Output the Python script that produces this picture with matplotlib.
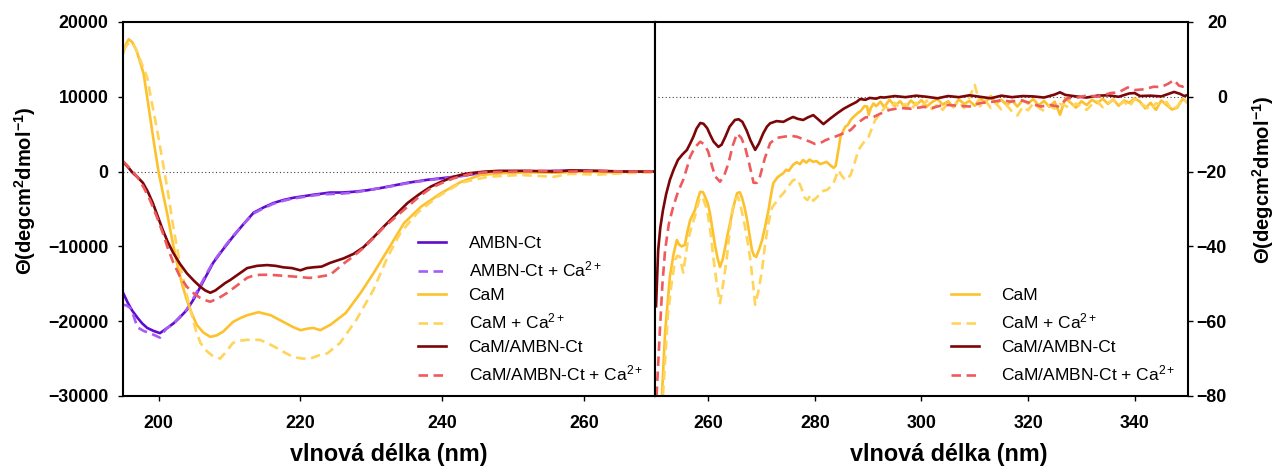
import matplotlib
matplotlib.use("Agg")
import matplotlib.pyplot as plt

plt.rcParams["font.family"] = ["Liberation Sans", "DejaVu Sans"]
plt.rcParams["mathtext.fontset"] = "custom"
plt.rcParams["mathtext.rm"] = "Liberation Sans"
plt.rcParams["mathtext.bf"] = "Liberation Sans:bold"
plt.rcParams["mathtext.it"] = "Liberation Sans:italic"

COLORS = {
    "ambn":      "#5E0CCF",
    "ambn_ca":   "#A65CF5",
    "cam":       "#FDC12E",
    "cam_ca":    "#FFD45A",
    "complex":   "#7C0508",
    "complex_ca": "#EF5A5C",
}

# ---------------- far-UV (left panel) ----------------
cam_nm = [195, 195.4, 195.8, 196.3, 196.9, 197.9, 198.6, 199.3, 200, 200.6, 201.2, 201.9,
          202.6, 203.3, 204, 204.7, 205.4, 206.3, 207.3, 208.2, 209.1, 210.5, 211.5, 212.5,
          214.1, 215.8, 217.6, 219, 220, 221, 221.8, 222.8, 224.2, 226.4, 228.5, 230.3,
          232.3, 234.6, 237, 239.8, 242.6, 245.4, 248.7, 252, 256, 260, 264, 268, 270]
cam_mre = [15800, 17000, 17700, 17300, 16200, 13100, 8700, 4200, 0, -2800, -5500, -9000,
           -12200, -15000, -17200, -19000, -20500, -21500, -22100, -21900, -21400, -20100,
           -19600, -19200, -18800, -19200, -20100, -20800, -21200, -21000, -20900, -21200,
           -20500, -18900, -16200, -13600, -10500, -6900, -4700, -2900, -1400, -450, -200,
           -100, -150, 0, -100, 0, 0]

cam_ca_nm = [195, 195.6, 196.3, 197, 197.6, 198.4, 199.1, 199.8, 200.5, 201.2, 202.1, 203,
             203.8, 204.5, 205.2, 205.9, 206.8, 207.7, 208.7, 209.6, 210.5, 211.5, 212.5,
             214.3, 215.5, 216.7, 218, 219, 220.3, 221.4, 222.8, 223.8, 225.6, 227.9, 230.3,
             232.3, 234.1, 236.5, 239.3, 242.6, 246.4, 251, 255.7, 258, 262, 266, 270]
cam_ca_mre = [16200, 17000, 17300, 16000, 14500, 12600, 9000, 5600, 1800, -2000, -7500,
              -12200, -15800, -18500, -21000, -22900, -24000, -24700, -25000, -24000, -22900,
              -22600, -22500, -22500, -23000, -23600, -24300, -24800, -25000, -25000, -24500,
              -24300, -22900, -19800, -15800, -11400, -8200, -5500, -3400, -1500, -700, -450,
              -700, -300, -400, -200, -100]

ambn_nm = [195, 195.7, 196.3, 197, 197.7, 198.4, 199.3, 200.2, 201.1, 202.1, 203, 204, 205,
           205.9, 206.8, 207.7, 209.1, 210.5, 212, 213.4, 214.8, 216.2, 217.6, 219, 220.4,
           221.8, 223, 224.2, 225.8, 227.5, 229.4, 231.3, 233.2, 235.1, 237.9, 239.8, 241.6,
           243.5, 245.4, 248, 252, 256, 260, 264, 270]
ambn_mre = [-16200, -17600, -18600, -19500, -20300, -20900, -21300, -21600, -21000, -20300,
            -19500, -18500, -17000, -15400, -13800, -12200, -10400, -8700, -7000, -5500,
            -4800, -4200, -3800, -3500, -3300, -3100, -2950, -2800, -2800, -2700, -2500,
            -2200, -1850, -1500, -1100, -900, -700, -450, -200, 0, 0, 100, 100, 0, 0]

ambn_ca_nm = [195, 195.5, 196.1, 196.6, 197, 197.9, 198.8, 199.5, 200.2, 200.7, 201.2, 202.1,
              203, 204, 205, 205.9, 206.8, 207.7, 209.1, 210.5, 212, 213.4, 214.8, 216.2,
              217.6, 219, 220.4, 221.8, 223, 224.2, 225.8, 227.5, 229.4, 231.3, 233.2, 235.1,
              237.9, 239.8, 241.6, 243.5, 245.4, 248, 252, 256, 260, 264, 270]
ambn_ca_mre = [-17800, -17900, -18300, -19600, -20800, -21300, -21600, -21900, -22200, -21500,
               -20900, -20400, -19400, -18400, -16800, -15200, -13600, -12100, -10300, -8600,
               -7000, -5600, -4900, -4300, -3900, -3600, -3400, -3200, -3050, -3000, -2950,
               -2800, -2500, -2200, -1900, -1550, -1150, -950, -750, -500, -250, -50, 0, 50,
               50, 0, 0]

cplx_nm = [195, 195.7, 196.4, 197.1, 197.8, 198.5, 199.2, 199.9, 200.6, 201.3, 202.1, 203, 204,
           205, 205.9, 206.6, 207.3, 208, 208.7, 209.4, 210.1, 211.3, 212.5, 213.9, 215.3,
           216.5, 217.6, 218.8, 220, 220.9, 221.8, 223, 224.2, 226.1, 227.5, 228.9, 230.3,
           231.7, 233.4, 235.1, 236.8, 238.4, 240, 241.6, 243, 244, 246, 248, 252, 256, 258,
           262, 266, 270]
cplx_mre = [1300, 600, -200, -800, -1500, -2700, -4200, -6000, -7800, -9400, -10900, -12300,
            -13600, -14600, -15400, -15900, -16200, -15900, -15400, -14900, -14500, -13700,
            -12900, -12600, -12500, -12600, -12800, -12900, -13200, -12900, -12800, -12700,
            -12200, -11600, -11000, -10100, -8800, -7400, -5800, -4200, -3000, -2000, -1300,
            -700, -350, -200, 0, 100, 100, 0, 150, 100, 0, 0]

cplx_ca_nm = [195, 196, 197, 197.9, 198.8, 199.7, 200.6, 201.3, 202.1, 203, 204, 205, 205.9,
              206.6, 207.3, 208.5, 209.7, 211.1, 212.5, 213.4, 214.3, 215.7, 217.2, 218.6,
              220, 221, 221.8, 223, 224.2, 226.1, 227.5, 228.9, 230.3, 231.7, 233.4, 235.1,
              236.8, 238.4, 240, 241.6, 244, 246, 250, 254, 258, 262, 266, 270]
cplx_ca_mre = [1400, 400, -700, -2100, -3800, -5900, -8200, -10200, -12200, -14000, -15400,
               -16300, -16900, -17200, -17400, -16900, -16200, -15200, -14200, -13900, -13800,
               -13800, -13900, -14000, -14100, -14200, -14200, -14000, -13800, -12300, -11300,
               -10200, -8900, -7500, -6100, -4700, -3300, -2200, -1500, -900, -300, -100, 0,
               100, 0, 100, 0, 0]

# ---------------- near-UV (right panel) ----------------
n_cam_nm = [250, 251.3, 251.9, 252.8, 253.5, 254.1, 254.5, 255, 255.6, 256.1, 256.6, 257.5,
            258, 258.5, 259, 259.4, 259.9, 260.3, 260.8, 261.3, 261.8, 262.2, 262.7, 263.2,
            263.6, 264.1, 264.8, 265.4, 265.9, 266.3, 266.8, 267.3, 267.8, 268.2, 268.6, 269,
            269.5, 270.1, 270.7, 271.3, 271.8, 272.2, 273, 274.1, 274.6, 275.1, 275.9, 276.6,
            277.2, 277.8, 278.4, 279, 279.7, 280.3, 281, 281.6, 282.2, 282.8, 283.5, 283.9,
            284.2, 284.5, 284.8, 285.3, 285.7, 286.2, 286.7, 287.3, 288, 288.6, 289.3, 289.8,
            290.1, 290.5, 291, 291.5, 292.3, 293, 294, 295, 296, 297, 298, 299, 300, 301, 302,
            303, 304, 305, 306, 307, 308, 309, 310, 311, 312, 313, 314, 315, 316, 317, 318,
            319, 320, 321, 322, 323, 324, 325, 326, 327, 328, 329, 330, 331, 332, 333, 334,
            335, 336, 337, 338, 339, 340, 341, 342, 343, 344, 345, 346, 347, 348, 349, 350]
n_cam_val = [-100, -80, -63, -48, -42, -38.3, -39.5, -40, -39.6, -36, -33, -30.3, -27.5, -25.4,
             -25.5, -26.7, -28.5, -31, -35.5, -40, -43.5, -45.5, -43.5, -40, -37, -33.7, -29,
             -25.8, -25.5, -26.8, -29.5, -33, -37.5, -41, -42.5, -42.8, -41, -38.3, -34.5,
             -30.3, -26, -23.1, -21.5, -20.4, -19.5, -19.8, -18.2, -17.5, -18, -16.9, -17.6,
             -16.8, -17.4, -17.2, -18, -17.7, -17.4, -18.2, -19, -18.5, -16, -13.5, -10.7,
             -9.2, -8, -7.5, -6.2, -5.3, -4.4, -3.8, -2.5, -2.6, -4.8, -3.0, -1.8, -2.5, -1.3,
             -2.8, -0.8, -2.4, -1.2, -3.0, -1.0, -2.2, -0.9, -2.6, -1.4, -0.6, -2.1, -1.2,
             -2.8, -0.7, -1.9, -1.1, -2.4, -0.5, -1.5, 0.2, -1.8, -0.8, -2.2, -1.0, -2.6,
             -0.9, -1.8, -0.6, -2.3, -1.1, -2.7, -1.3, -4.8, -0.4, -1.6, -2.9, -1.2, -2.2,
             -0.8, -1.7, -0.5, -1.9, -0.7, -2.4, -1.0, -1.6, -0.4, -1.3, -3.1, -1.6, -3.5,
             -1.0, -2.2, -3.4, -2.9, -0.6, -1.5]

n_cam_ca_nm = [250.5, 251.5, 252.4, 253.1, 253.8, 254.2, 254.7, 255, 255.3, 255.7, 256.2,
               256.9, 257.5, 258, 258.5, 259.1, 259.8, 260.4, 261, 261.6, 262.2, 262.8,
               263.5, 264, 264.5, 265, 265.6, 266.2, 266.9, 267.4, 267.9, 268.4, 268.8,
               269.4, 270.1, 270.7, 271.3, 272, 272.6, 273.3, 274.1, 275, 275.9, 276.7,
               277.2, 277.6, 278.1, 278.6, 279.2, 279.7, 280.5, 281.2, 282.3, 283, 283.5,
               284, 284.4, 285, 285.7, 286.2, 286.7, 287.2, 287.8, 288.2, 289, 290.1, 290.7,
               291.3, 291.6, 292.3, 293.2, 294, 295, 296, 297, 298, 299, 300, 301, 302, 303,
               304, 305, 306, 307, 308, 309, 310, 310.5, 311, 312, 313, 314, 315, 316, 317,
               318, 319, 320, 321, 322, 323, 324, 325, 326, 327, 328, 329, 330, 331, 332, 333,
               334, 335, 336, 337, 338, 339, 340, 341, 342, 343, 344, 345, 346, 347, 348, 349,
               350]
n_cam_ca_val = [-100, -80, -58.8, -50, -43.6, -42.5, -42.8, -45, -47, -43, -38.3, -34.5, -32,
                -29, -26.7, -27.5, -30.3, -36, -43.6, -50, -55.2, -50, -42.8, -36, -30.3,
                -27.5, -26.7, -30, -34.8, -39, -43.6, -50, -55.6, -52, -46.3, -39, -33.7,
                -29.5, -28.4, -27, -25.8, -24, -22.3, -22, -23.5, -24.9, -27, -27.6, -26.3,
                -27.8, -26.7, -25.3, -24.9, -24, -23.1, -21.2, -19.6, -21, -22.3, -21.7,
                -20.9, -18.8, -16, -14.2, -12.5, -10.7, -8.4, -6.2, -5.8, -4.5, -2.6, -3.4,
                -1.6, -3.1, -1.9, -3.6, -1.6, -2.9, -1.0, -3.3, -2.0, -3.5, -1.4, -2.6, -1.2,
                -3.0, -0.2, 3.2, 0.5, -2.5, -1.0, -3.0, -1.8, -3.4, -2.2, -4.0, -5.0, -2.7,
                -3.6, -1.7, -2.9, -3.8, -2.3, -3.2, -1.9, -2.4, -3.1, -1.8, -2.6, -3.5, -2.0,
                -1.2, -2.8, -1.6, -0.9, -2.3, -1.3, -2.7, -0.6, -1.8, -2.5, -3.6, -1.7, -2.2,
                -1.4, -3.5, -2.6, -0.4, -1.8]

n_cplx_nm = [250.2, 250.6, 251, 251.5, 252.1, 252.8, 253.5, 254.3, 255.1, 256, 256.6, 257.2,
             257.8, 258.5, 259.1, 259.8, 260.4, 261, 261.9, 262.5, 263.2, 264, 265, 265.7,
             266.4, 267.2, 267.9, 268.8, 269.5, 270.3, 271, 271.6, 272.8, 274.1, 275, 275.9,
             276.8, 277.8, 278.7, 279.7, 280.6, 281.6, 282.9, 284.2, 285.4, 286.7, 287.8,
             288.5, 289.5, 290.3, 291.5, 292.3, 293, 295, 297, 299, 301, 303, 305, 307, 309,
             311, 313, 315, 317, 319, 321, 323, 325, 326, 327, 329, 331, 333, 335, 337, 339,
             340, 341, 343, 345, 347.4, 348.5, 349.3, 350]
n_cplx_val = [-56, -41, -35, -30.3, -26, -22.2, -19.5, -16.9, -15.5, -14.2, -12.5, -10.7, -8.5,
              -7, -7.2, -8.4, -10.3, -12, -13.4, -12.8, -10.7, -8, -6.2, -6, -6.7, -9, -11.6,
              -14.2, -12.5, -9.8, -8, -7.1, -6.5, -6.7, -6, -5.4, -5.9, -6.2, -5.5, -4.9, -6,
              -7.3, -5.8, -4.4, -3.2, -2.2, -1.4, -0.6, -0.8, -0.3, -0.5, -0.1, -0.2, 0.2,
              -0.1, 0.3, 0, -0.4, 0.2, -0.1, 0.4, 0, -0.4, 0.3, -0.1, 0.2, 0.1, -0.2, 0.6,
              1.2, 0.5, 0.1, -0.2, 0.3, 0.4, 0, 0.9, 1.0, 0.2, 0.3, 0.1, 1.3, 0.8, 0.2, 0.5]

n_cplx_ca_nm = [250.3, 250.9, 251.4, 251.9, 252.6, 253.4, 254.3, 255.3, 256, 256.6, 257.5,
                258.5, 259.3, 260, 260.7, 261.3, 262.2, 263, 263.8, 264.6, 265.4, 266.2,
                266.9, 267.7, 268.5, 269.1, 269.7, 270.6, 271.6, 272.8, 274.1, 275.4, 276.7,
                277.9, 279.1, 280, 281, 282, 282.9, 284.1, 285.3, 286.7, 288, 289.5, 291,
                292.3, 294, 296, 298, 300.4, 302, 303.5, 305, 307, 309, 311, 313.5, 315,
                316.7, 318.6, 320, 322.4, 324.2, 325.6, 327.4, 329, 331.2, 333, 335.5, 337,
                338.7, 340, 341.7, 343.6, 345, 346.3, 347.4, 348.3, 349, 350]
n_cplx_ca_val = [-80, -63, -50, -41, -34, -29.5, -25.5, -22.2, -19, -16, -13.5, -12, -12.8,
                 -14.7, -18.5, -21.3, -22.7, -21, -17.7, -13, -9.8, -11, -13.4, -18, -23, -23,
                 -21.3, -16.5, -12.4, -11, -10.7, -10.4, -10.7, -11.4, -12, -12.6, -12.4,
                 -11.6, -11.1, -10.5, -9.8, -8.9, -7, -5.5, -5.4, -4.5, -3.5, -3, -3.2, -2.7,
                 -3, -2.4, -2.2, -2.4, -2.6, -1.7, -1.3, -0.9, -1.3, -0.9, -1.5, -2.6, -2.2,
                 -2.6, -0.4, -0.3, 0.4, 0, 1, 1.2, 2.5, 1.8, 2.0, 2.7, 2.6, 3.5, 4.5, 3, 2.7,
                 3.6]

LW = 1.9
DASH = (0, (3.6, 2.1))

fig = plt.figure(figsize=(12.79, 4.69), dpi=100, facecolor="white")
ax1 = fig.add_axes([0.0962, 0.1557, 0.4160, 0.7974])
ax2 = fig.add_axes([0.5121, 0.1557, 0.4167, 0.7974])

# far UV
ax1.axhline(0, color="#444444", lw=0.8, linestyle=(0, (1, 2.2)), zorder=1)
ax1.plot(ambn_nm, ambn_mre, color=COLORS["ambn"], lw=LW, label="AMBN-Ct")
ax1.plot(ambn_ca_nm, ambn_ca_mre, color=COLORS["ambn_ca"], lw=LW, linestyle=DASH,
         label="AMBN-Ct + Ca$^{2+}$")
ax1.plot(cam_nm, cam_mre, color=COLORS["cam"], lw=LW, label="CaM")
ax1.plot(cam_ca_nm, cam_ca_mre, color=COLORS["cam_ca"], lw=LW, linestyle=DASH,
         label="CaM + Ca$^{2+}$")
ax1.plot(cplx_nm, cplx_mre, color=COLORS["complex"], lw=LW, label="CaM/AMBN-Ct")
ax1.plot(cplx_ca_nm, cplx_ca_mre, color=COLORS["complex_ca"], lw=LW, linestyle=DASH,
         label="CaM/AMBN-Ct + Ca$^{2+}$")
ax1.set_xlim(195, 270)
ax1.set_ylim(-30000, 20000)
ax1.set_xticks([200, 220, 240, 260])
ax1.set_yticks([-30000, -20000, -10000, 0, 10000, 20000])

# near UV
ax2.axhline(0, xmin=0.006, color="#444444", lw=0.8, linestyle=(0, (1, 2.2)), zorder=1)
ax2.plot(n_cam_nm, n_cam_val, color=COLORS["cam"], lw=LW, label="CaM")
ax2.plot(n_cam_ca_nm, n_cam_ca_val, color=COLORS["cam_ca"], lw=LW, linestyle=DASH,
         label="CaM + Ca$^{2+}$")
ax2.plot(n_cplx_nm, n_cplx_val, color=COLORS["complex"], lw=LW, label="CaM/AMBN-Ct")
ax2.plot(n_cplx_ca_nm, n_cplx_ca_val, color=COLORS["complex_ca"], lw=LW, linestyle=DASH,
         label="CaM/AMBN-Ct + Ca$^{2+}$")
ax2.set_xlim(250, 350)
ax2.set_ylim(-80, 20)
ax2.set_xticks([260, 280, 300, 320, 340])
ax2.set_yticks([-80, -60, -40, -20, 0, 20])
ax2.yaxis.tick_right()
ax2.yaxis.set_label_position("right")

ylab = r"$\mathbf{\Theta(degcm^{2}dmol^{-1})}$"
for ax in (ax1, ax2):
    for s in ax.spines.values():
        s.set_linewidth(1.5)
        s.set_color("black")
    ax.tick_params(direction="out", length=3.6, width=1.0, labelsize=12.8)
    ax.tick_params(axis="x", pad=10)
    for lab in ax.get_xticklabels() + ax.get_yticklabels():
        lab.set_fontweight("bold")
    ax.set_xlabel("vlnová délka (nm)", fontsize=16.8, fontweight="bold")
    ax.set_ylabel(ylab, fontsize=14.5)
    ax.legend(loc="lower right", bbox_to_anchor=(1.0, 0.0), frameon=False, fontsize=12.5,
              handlelength=1.6, handletextpad=1.3, labelspacing=0.49, borderaxespad=0.3)

ax1.tick_params(axis="y", pad=7)
ax2.tick_params(axis="y", pad=24.5)
for lab in ax2.get_yticklabels():
    lab.set_horizontalalignment("right")

ax1.xaxis.set_label_coords(0.5, -0.126)
ax2.xaxis.set_label_coords(0.551, -0.126)
ax1.yaxis.set_label_coords(-0.16, 0.548)
ax2.yaxis.set_label_coords(1.116, 0.578)

fig.savefig("out.png", dpi=100, facecolor="white")
